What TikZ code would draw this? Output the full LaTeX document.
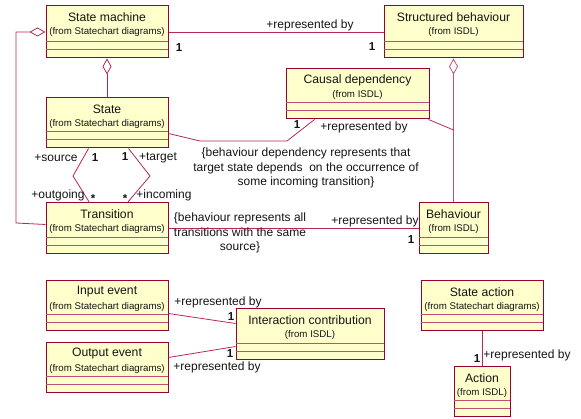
\documentclass[tikz,border=0pt]{standalone}
\usepackage{fontspec}
\setmainfont{Liberation Sans}
\usetikzlibrary{arrows.meta,calc}
\definecolor{bordc}{RGB}{153,0,51}
\definecolor{compc}{RGB}{190,80,120}
\definecolor{fillc}{RGB}{255,255,204}
\definecolor{connc}{RGB}{180,40,90}
\definecolor{txtc}{RGB}{20,20,20}
\tikzset{
  clsbox/.style={draw=bordc, fill=fillc, line width=1pt, inner sep=0pt, rectangle},
  compline/.style={draw=compc, line width=0.9pt},
  ctitle/.style={font=\fontsize{12.2}{14}\selectfont, text=txtc, inner sep=0pt},
  cfrom/.style={font=\fontsize{9.7}{11}\selectfont, text=txtc, inner sep=0pt},
  conn/.style={draw=connc, line width=0.8pt},
  lbl/.style={font=\fontsize{12}{14}\selectfont, text=txtc, inner sep=0pt},
  mult/.style={font=\bfseries\fontsize{11.5}{14}\selectfont, text=txtc, inner sep=0pt},
  notetext/.style={font=\fontsize{12}{14.6}\selectfont, text=txtc, inner sep=0pt, align=center},
  aggr/.style={{Diamond[open,length=16pt,width=9pt,fill=white,line width=0.8pt]}-},
}
\newcommand\umlbox[7]{%
  \node[clsbox, minimum width={(#4-#2)*1pt}, minimum height={(#5-#3)*1pt}] (#1) at ({(#2+#4)/2},{(#3+#5)/2}) {};
  \draw[compline] ({#2},{#5-17}) -- ({#4},{#5-17});
  \draw[compline] ({#2},{#5-9}) -- ({#4},{#5-9});
  \node[ctitle] (#1-t) at ({(#2+#4)/2},{#3+11}) {#6};
  \node[cfrom] (#1-f) at ({(#2+#4)/2},{#3+26}) {#7};
}
\begin{document}
\begin{tikzpicture}[x=1pt,y=-1pt]
\useasboundingbox (0,0) rectangle (581,419);
% classes
\umlbox{sm}{46}{6}{168}{58}{State machine}{(from Statechart diagrams)}
\umlbox{sb}{384}{6}{523}{58}{Structured behaviour}{(from ISDL)}
\umlbox{cd}{286}{69}{429}{119}{Causal dependency}{(from ISDL)}
\umlbox{st}{46}{98}{168}{148}{State}{(from Statechart diagrams)}
\umlbox{tr}{46}{203}{168}{254}{Transition}{(from Statechart diagrams)}
\umlbox{bh}{419}{203}{488}{254}{Behaviour}{(from ISDL)}
\umlbox{ie}{46}{281}{168}{331}{Input event}{(from Statechart diagrams)}
\umlbox{oe}{46}{343}{168}{393}{Output event}{(from Statechart diagrams)}
\umlbox{ic}{236}{309}{384}{360}{Interaction contribution}{(from ISDL)}
\umlbox{sa}{421}{281}{543}{331}{State action}{(from Statechart diagrams)}
\umlbox{ac}{454}{367}{510}{417}{Action}{(from ISDL)}
% coordinates
\coordinate (smL) at (16,32);
\coordinate (trL) at (16,223);
\coordinate (stR) at ($(st.north east)+(0,36)$);
\coordinate (k1) at (200,141);
\coordinate (k2) at (287,141);
\coordinate (cdB) at ($(cd.south west)+(29,0)$);
\coordinate (j1) at (453.5,130);
\coordinate (s1) at ($(st.south west)+(43,0)$);
\coordinate (s2) at (73,176);
\coordinate (s3) at ($(tr.north west)+(44,0)$);
\coordinate (t1) at ($(st.south west)+(83,0)$);
\coordinate (t2) at (150,176);
\coordinate (t3) at ($(tr.north west)+(82,0)$);
% connectors
\draw[conn] (sm.east) -- (sb.west);
\draw[conn,aggr] (sm.south) -- (st.north);
\draw[conn,aggr] (sm.west) -- (smL) -- (trL) -- ($(tr.north west)+(0,22)$);
\draw[conn,aggr,draw=compc] (sb.south) -- (bh.north);
\draw[conn] (stR) -- (k1) -- (k2) -- (cdB);
\draw[conn] ($(cd.south east)+(-1,0)$) -- (j1);
\draw[conn] (s1) -- (s2) -- (s3);
\draw[conn] (t1) -- (t2) -- (t3);
\draw[conn] (tr.east) -- (bh.west);
\draw[conn] ($(ie.north east)+(0,33)$) -- ($(ic.north west)+(0,15)$);
\draw[conn] ($(oe.north east)+(0,15)$) -- ($(ic.north west)+(0,38)$);
\draw[conn] (sa.south) -- (ac.north);
% labels
\node[lbl] (l1) at (310,25) {+represented by};
\node[mult] (m1) at (179,48) {1};
\node[mult] (m2) at (372,47) {1};
\node[mult] (m3) at (297,125) {1};
\node[lbl] (l2) at (364,127) {+represented by};
\node[lbl] (l3) at (56,158) {+source};
\node[mult] (m4) at (95,158) {1};
\node[mult] (m5) at (125,157) {1};
\node[lbl] (l4) at (158,158) {+target};
\node[lbl] (l5) at (58,195) {+outgoing};
\node[mult] (m6) at (93,199) {*};
\node[mult] (m7) at (125,199) {*};
\node[lbl] (l6) at (164,195) {+incoming};
\node[notetext] (n1) at (306,168) {\{behaviour dependency represents that\\target state depends\ \ on the occurrence of\\some incoming transition\}};
\node[notetext] (n2) at (240,233) {\{behaviour represents all\\transitions with the same\\source\}};
\node[lbl] (l7) at (375,221) {+represented by};
\node[mult] (m8) at (411,240) {1};
\node[lbl] (l8) at (218,302) {+represented by};
\node[mult] (m9) at (231,317) {1};
\node[lbl] (l9) at (217,367) {+represented by};
\node[mult] (m10) at (230,354) {1};
\node[mult] (m11) at (477,359) {1};
\node[lbl] (l10) at (527,355) {+represented by};
\end{tikzpicture}
\end{document}
